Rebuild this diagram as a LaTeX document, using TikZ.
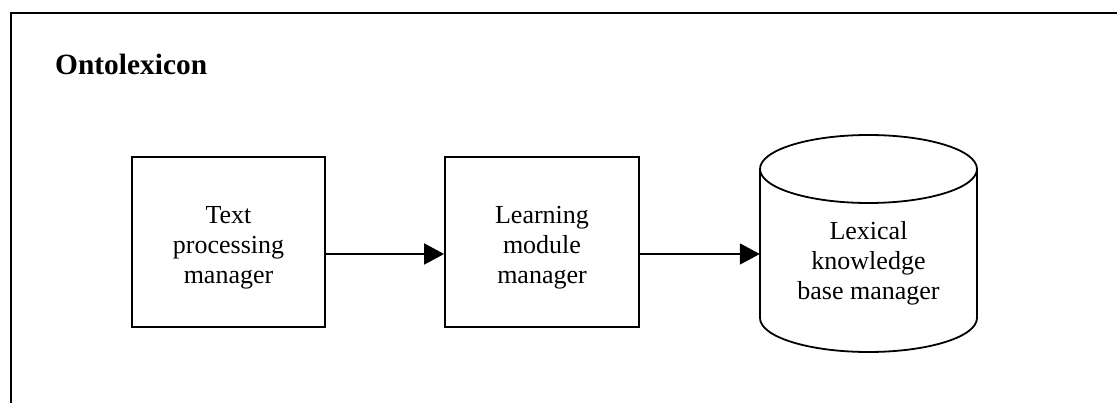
\documentclass[tikz,border=0pt]{standalone}
\usepackage{fontspec}
\setmainfont{Liberation Serif}
\usetikzlibrary{arrows.meta,calc}

\tikzset{
  stroke/.style={line width=1.8pt, draw=black},
  stagebox/.style={stroke, rectangle, inner sep=0pt},
  label/.style={align=center, inner sep=0pt,
    font=\fontsize{26}{30}\selectfont},
  flow/.style={line width=1.8pt, -{Triangle[length=20pt,width=21pt]}},
}

\begin{document}
\begin{tikzpicture}[x=1pt,y=1pt]
  \useasboundingbox (0,0) rectangle (1117,-403);

  % enclosing frame (open at the bottom and right)
  \draw[line width=2.2pt] (11,-403) -- (11,-13) -- (1117,-13);

  \node[anchor=base west, inner sep=0pt,
        font=\fontsize{29.4}{34}\selectfont\bfseries] (title) at (55,-75) {Ontolexicon};

  % processing stages
  \node[stagebox, minimum width=193pt, minimum height=170pt] (tpm) at (228.5,-242) {};
  \node[label] (tpmtext) at (228.5,-247.3) {Text\\processing\\manager};

  \node[stagebox, minimum width=194pt, minimum height=170pt] (lmm) at (542,-242) {};
  \node[label] (lmmtext) at (542,-247.3) {Learning\\module\\manager};

  % knowledge base as a cylinder
  \node[rectangle, inner sep=0pt, minimum width=217pt, minimum height=217pt] (lkb) at (868.5,-243.5) {};
  \draw[stroke] (760,-169) -- (760,-318)
      arc[start angle=180, end angle=360, x radius=108.5, y radius=34]
      -- (977,-169);
  \draw[stroke] (868.5,-169) ellipse [x radius=108.5, y radius=34];
  \node[label] (lkbtext) at (868.5,-263.4) {Lexical\\knowledge\\base manager};

  % data flow
  \draw[flow] ([yshift=-12pt]tpm.east) -- ([yshift=-12pt]tpm.east -| lmm.west);
  \draw[flow] ([yshift=-12pt]lmm.east) -- ([yshift=-12pt]lmm.east -| lkb.west);
\end{tikzpicture}
\end{document}
